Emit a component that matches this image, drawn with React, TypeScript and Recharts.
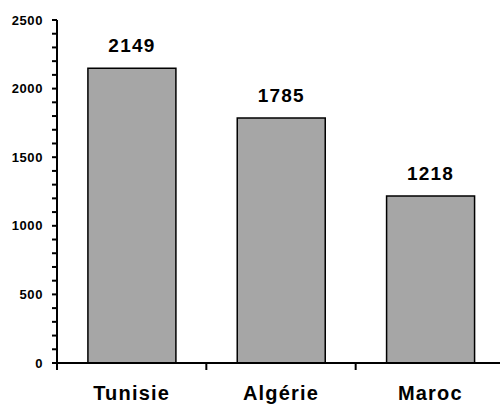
import { Bar, BarChart, LabelList, XAxis, YAxis } from "recharts";

const countries = ["Tunisie", "Algérie", "Maroc"];
const values = [2149, 1785, 1218];
const yTicks = [0, 100, 200, 300, 400, 500, 600, 700, 800, 900, 1000, 1100, 1200, 1300, 1400, 1500, 1600, 1700, 1800, 1900, 2000, 2100, 2200, 2300, 2400, 2500];
const yLabels = [0, 500, 1000, 1500, 2000, 2500];

const data = countries.map((name, i) => ({ name, value: values[i] }));

const font = "'Liberation Sans', Arial, sans-serif";

// category label plus a tick mark at the left edge of each band
const CategoryTick = ({ x, y, payload }: any) => {
  const edge = x - (payload.offset || 0);
  return (
    <g>
      <line x1={edge} x2={edge} y1={y} y2={y + 7} stroke="#000" strokeWidth={2} />
      <text
        x={x}
        y={y + 37}
        textAnchor="middle"
        fill="#000"
        style={{ fontSize: 20, fontWeight: "bold", fontFamily: font, letterSpacing: 1.2 }}
      >
        {payload.value}
      </text>
    </g>
  );
};

export default function App() {
  return (
    <div style={{ position: "absolute", left: 0, top: 0, width: 500, height: 406, overflow: "hidden", background: "#fff" }}>
      <BarChart
        width={510}
        height={406}
        data={data}
        margin={{ top: 20, right: 5, bottom: 0, left: 0 }}
        barCategoryGap="20.7%"
      >
        <XAxis
          dataKey="name"
          tickLine={false}
          tickSize={0}
          tickMargin={0}
          axisLine={{ stroke: "#000", strokeWidth: 2 }}
          height={43}
          interval={0}
          tick={<CategoryTick />}
        />
        <YAxis
          domain={[0, 2500]}
          ticks={yTicks}
          interval={0}
          width={57}
          tickSize={5}
          tickMargin={9}
          axisLine={{ stroke: "#000", strokeWidth: 2 }}
          tickLine={{ stroke: "#000", strokeWidth: 2 }}
          tickFormatter={(v: number) => (yLabels.includes(v) ? String(v) : "")}
          tick={{ fill: "#000", fontSize: 13, fontWeight: "bold", fontFamily: font, letterSpacing: 0.6 }}
        />
        <Bar dataKey="value" fill="#a6a6a6" stroke="#000" strokeWidth={1.5} isAnimationActive={false}>
          <LabelList
            dataKey="value"
            position="top"
            offset={16}
            style={{ fill: "#000", fontSize: 19, fontWeight: "bold", fontFamily: font, letterSpacing: 1.2 }}
          />
        </Bar>
      </BarChart>
    </div>
  );
}
